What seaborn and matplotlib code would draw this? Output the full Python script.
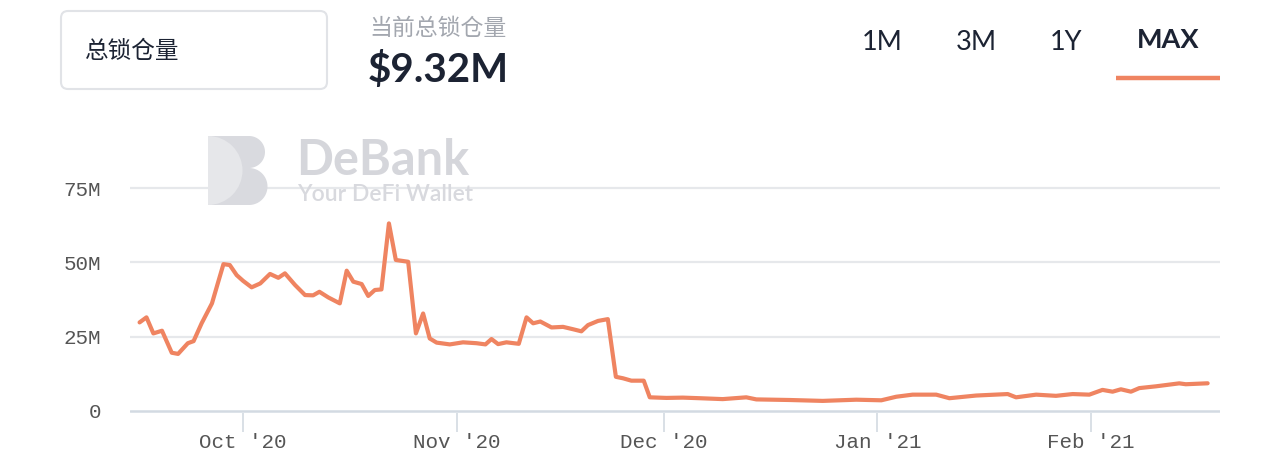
import matplotlib
matplotlib.use("Agg")
import matplotlib.pyplot as plt
from matplotlib.patches import FancyBboxPatch, PathPatch, Wedge
from matplotlib.path import Path
import numpy as np
import pandas as pd
import seaborn as sns

# ---------------- data ----------------
dates = [
    "2020-09-16 00:00", "2020-09-17 00:00", "2020-09-18 00:00", "2020-09-19 06:00",
    "2020-09-20 16:00", "2020-09-21 14:00", "2020-09-23 00:00", "2020-09-23 20:00",
    "2020-09-25 00:00", "2020-09-26 12:00", "2020-09-27 10:00", "2020-09-28 04:00",
    "2020-09-29 02:00", "2020-09-30 02:00", "2020-10-01 00:00", "2020-10-02 06:00",
    "2020-10-03 12:00", "2020-10-04 22:00", "2020-10-06 03:00", "2020-10-07 02:00",
    "2020-10-08 13:00", "2020-10-10 00:00", "2020-10-11 04:00", "2020-10-12 02:00",
    "2020-10-13 09:00", "2020-10-15 01:00", "2020-10-16 01:00", "2020-10-17 00:00",
    "2020-10-18 05:00", "2020-10-19 04:00", "2020-10-20 03:00", "2020-10-21 02:00",
    "2020-10-22 04:00", "2020-10-23 04:00", "2020-10-24 23:00", "2020-10-26 02:00",
    "2020-10-27 03:00", "2020-10-28 02:00", "2020-10-29 02:00", "2020-10-31 00:00",
    "2020-11-01 22:00", "2020-11-03 21:00", "2020-11-05 04:00", "2020-11-06 01:00",
    "2020-11-07 00:00", "2020-11-08 05:00", "2020-11-10 00:00", "2020-11-11 03:00",
    "2020-11-12 02:00", "2020-11-13 03:00", "2020-11-14 18:00", "2020-11-16 10:00",
    "2020-11-17 21:00", "2020-11-19 02:00", "2020-11-20 01:00", "2020-11-21 12:00",
    "2020-11-22 22:00", "2020-11-24 02:00", "2020-11-25 03:00", "2020-11-26 08:00",
    "2020-11-28 03:00", "2020-11-29 00:00", "2020-12-01 10:00", "2020-12-03 19:00",
    "2020-12-06 06:00", "2020-12-09 14:00", "2020-12-13 00:00", "2020-12-14 11:00",
    "2020-12-19 07:00", "2020-12-24 02:00", "2020-12-28 23:00", "2021-01-01 14:00",
    "2021-01-03 18:00", "2021-01-06 03:00", "2021-01-09 13:00", "2021-01-11 11:00",
    "2021-01-15 08:00", "2021-01-19 22:00", "2021-01-21 03:00", "2021-01-24 01:00",
    "2021-01-26 22:00", "2021-01-29 08:00", "2021-01-31 18:00", "2021-02-02 16:00",
    "2021-02-04 03:00", "2021-02-05 08:00", "2021-02-06 19:00", "2021-02-08 00:00",
    "2021-02-10 10:00", "2021-02-13 19:00", "2021-02-14 18:00", "2021-02-17 22:00",
]
tvl_musd = [
    29.8, 31.5, 26.1, 27.0,
    19.6, 19.2, 22.8, 23.5,
    29.5, 36.2, 43.5, 49.4,
    49.1, 45.7, 43.8, 41.6,
    42.9, 46.1, 44.8, 46.3,
    42.4, 39.0, 38.9, 40.1,
    38.2, 36.2, 47.2, 43.5,
    42.7, 38.7, 40.7, 40.9,
    63.1, 50.8, 50.2, 26.1,
    32.8, 24.4, 23.0, 22.4,
    23.1, 22.8, 22.4, 24.2,
    22.5, 23.1, 22.6, 31.5,
    29.5, 30.1, 28.1, 28.3,
    27.5, 26.8, 28.9, 30.3,
    30.9, 11.5, 11.0, 10.2,
    10.2, 4.6, 4.4, 4.5,
    4.3, 4.0, 4.6, 3.9,
    3.7, 3.4, 3.8, 3.6,
    4.8, 5.5, 5.5, 4.3,
    5.2, 5.7, 4.6, 5.5,
    5.1, 5.7, 5.5, 7.1,
    6.5, 7.3, 6.5, 7.7,
    8.3, 9.3, 9.0, 9.32,
]
y_ticks = [0, 25, 50, 75]
y_tick_labels = ["0", "25M", "50M", "75M"]
x_ticks = ["2020-10-01", "2020-11-01", "2020-12-01", "2021-01-01", "2021-02-01"]
x_tick_labels = ["Oct '20", "Nov '20", "Dec '20", "Jan '21", "Feb '21"]
x_range = ["2020-09-14 14:40", "2021-02-19 17:00"]

metric_label = "总锁仓量"
current_label = "当前总锁仓量"
current_value = "$9.32M"
range_buttons = ["1M", "3M", "1Y", "MAX"]
active_button = "MAX"

df = pd.DataFrame({"date": pd.to_datetime(dates), "tvl": tvl_musd})

# ---------------- style ----------------
sns.set_theme(style="white")
plt.rcParams["font.family"] = ["Lato", "Noto Sans CJK SC", "DejaVu Sans"]

W, H = 1272, 472
fig = plt.figure(figsize=(W / 100, H / 100), dpi=100)
fig.patch.set_facecolor("white")

LINE = "#ef8461"
DARK = "#1c2333"

# main axes placement (pixel geometry)
px_per_m = 2.973
y0_px = 411
ylo, yhi = -0.6, 75.6
bottom_px = y0_px + (0 - ylo) * px_per_m
top_px = y0_px - yhi * px_per_m
left_px, right_px = 130, 1220
ax = fig.add_axes([left_px / W, (H - bottom_px) / H,
                   (right_px - left_px) / W, (bottom_px - top_px) / H])
ax.set_facecolor("none")

for v in y_ticks[1:]:
    ax.axhline(v, color="#e6e8eb", lw=1.6, zorder=1)
ax.axhline(0, color="#d3dae2", lw=1.8, zorder=1)

sns.lineplot(data=df, x="date", y="tvl", ax=ax, color=LINE, lw=3.0, zorder=3,
             solid_joinstyle="round", solid_capstyle="round")

ax.set_ylim(ylo, yhi)
ax.set_xlim(pd.to_datetime(x_range[0]), pd.to_datetime(x_range[1]))
for s in ax.spines.values():
    s.set_visible(False)

ax.set_yticks(y_ticks)
ax.set_yticklabels(y_tick_labels)
ax.set_xticks(pd.to_datetime(x_ticks))
ax.set_xticklabels(x_tick_labels)
ax.tick_params(axis="y", length=0, pad=21, labelsize=15, labelcolor="#555555")
ax.tick_params(axis="x", direction="out", length=13.5, width=1.2, color="#d3dae2",
               pad=1, labelsize=15, labelcolor="#555555", bottom=True)
for lab in ax.get_xticklabels() + ax.get_yticklabels():
    lab.set_fontfamily("Liberation Mono")
ax.set_xlabel("")
ax.set_ylabel("")
ax.grid(False)

# ---------------- overlay (header + watermark) ----------------
ov = fig.add_axes([0, 0, 1, 1], zorder=5)
ov.set_xlim(0, W)
ov.set_ylim(H, 0)
ov.set_axis_off()

box = FancyBboxPatch((61, 11), 266, 78, boxstyle="round,pad=0,rounding_size=7",
                     fc="white", ec="#e1e3e7", lw=1.5)
ov.add_patch(box)
ov.text(85, 52, metric_label, fontsize=17, color=DARK, va="center", ha="left",
        family=["Noto Sans CJK SC", "DejaVu Sans"])

ov.text(369, 28, current_label, fontsize=16.5, color="#a3a7af", va="center", ha="left",
        family=["Noto Sans CJK SC", "DejaVu Sans"])
ov.text(368, 82, current_value, fontsize=29, color=DARK, va="baseline", ha="left",
        family=["Lato", "DejaVu Sans"], fontweight="bold")

btn_x = [882, 976, 1066, 1168]
for bx, b in zip(btn_x, range_buttons):
    ov.text(bx, 42 if b != active_button else 40, b, fontsize=19.5, color=DARK,
            va="center", ha="center", family=["Lato", "DejaVu Sans"],
            fontweight="bold" if b == active_button else "normal")
ov.plot([1116, 1220], [77.5, 77.5], color=LINE, lw=3.2, solid_capstyle="butt")

# watermark logo
wm_dark = "#d9dadf"
wm_light = "#e6e7ea"
verts = [(208, 136), (249, 136)]
th = np.linspace(-np.pi / 2, np.pi / 2, 40)
cx, cy, r = 249, 152, 16
verts += [(cx + r * np.cos(t), cy + r * np.sin(t)) for t in th]
cx, cy, r = 249, 186.5, 18.5
verts += [(cx + r * np.cos(t), cy + r * np.sin(t)) for t in th]
verts += [(208, 205), (208, 136)]
codes = [Path.MOVETO] + [Path.LINETO] * (len(verts) - 2) + [Path.CLOSEPOLY]
ov.add_patch(PathPatch(Path(verts, codes), fc=wm_dark, ec="none"))
ov.add_patch(Wedge((208, 170.5), 34.5, -90, 90, fc=wm_light, ec="none"))

ov.text(296, 175, "DeBank", fontsize=35, color="#d5d6db", va="baseline", ha="left",
        family=["Lato", "DejaVu Sans"], fontweight="bold")
ov.text(297, 201, "Your DeFi Wallet", fontsize=16.5, color="#d8d9de", va="baseline",
        ha="left", family=["Lato", "DejaVu Sans"], fontweight="semibold")

fig.savefig("out.png", dpi=100, facecolor="white")
